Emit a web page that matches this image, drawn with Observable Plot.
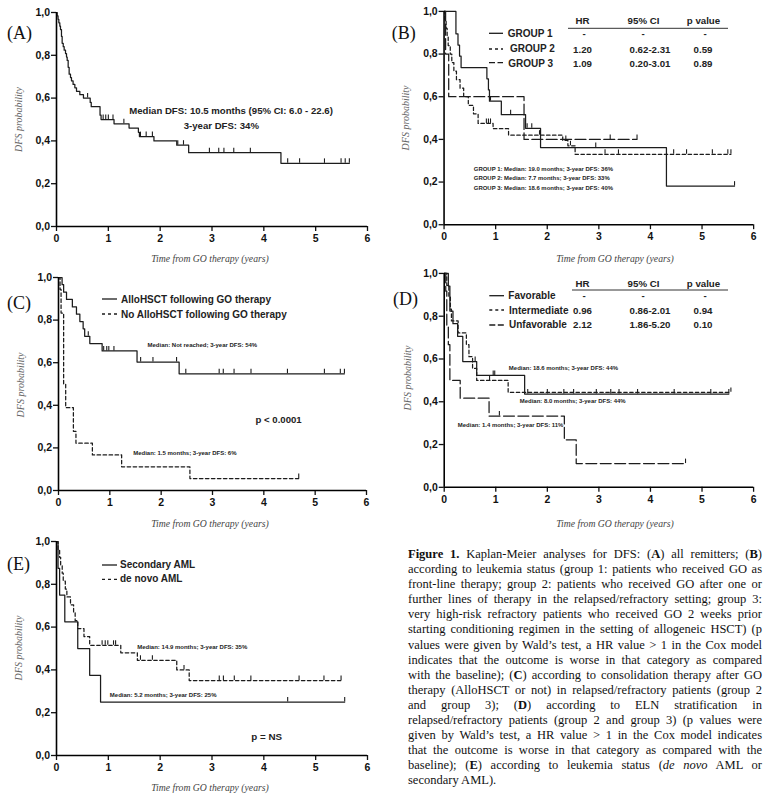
<!DOCTYPE html>
<html><head><meta charset="utf-8">
<script src="https://cdn.jsdelivr.net/npm/d3@7"></script>
<script src="https://cdn.jsdelivr.net/npm/@observablehq/plot@0.6"></script>
<style>
body{margin:0;background:#fff;}
#page{position:relative;width:771px;height:797px;overflow:hidden;background:#fff;}
.panel{position:absolute;}
#overlay{position:absolute;left:0;top:0;}
#caption{position:absolute;left:408px;top:547px;width:354px;font-family:"Liberation Serif","Times New Roman",serif;font-size:12.5px;line-height:15.1px;color:#111;}
#caption div{white-space:nowrap;}
</style></head>
<body><div id="page"><div id="caption"></div></div>
<script>
// ---------- axis ticks ----------
const xTicks = [0,1,2,3,4,5,6];
const yTicks = [0,0.2,0.4,0.6,0.8,1];

// ---------- Panel A: all remitters ----------
const aTimes = [0,0.013,0.03,0.045,0.064,0.077,0.096,0.109,0.13,0.148,0.174,0.193,0.206,0.225,0.244,0.27,0.289,0.32,0.354,0.386,0.45,0.52,0.65,0.67,0.84,0.86,1.11,1.40,1.58,1.60,1.88,2.32,2.55,4.33];
const aSurv  = [1,0.984,0.968,0.952,0.936,0.92,0.888,0.856,0.84,0.824,0.808,0.792,0.776,0.744,0.712,0.696,0.68,0.664,0.648,0.632,0.616,0.60,0.58,0.56,0.52,0.50,0.48,0.46,0.44,0.42,0.40,0.38,0.345,0.295];
const aEnd = 5.65;
const aCensor = [0.6,0.9,0.95,1.0,1.09,1.3,1.62,1.73,1.85,2.34,2.45,2.95,3.13,3.23,3.42,3.74,4.46,4.69,5.17,5.49,5.57,5.65];
const aNotes = ["Median DFS: 10.5 months (95% CI: 6.0 - 22.6)","3-year DFS: 34%"];

// ---------- Panel B: leukemia status groups ----------
const g1Times = [0,0.23,0.27,0.30,0.33,0.83,0.86,0.88,1.11,1.58,1.87,4.31];
const g1Surv  = [1,0.895,0.842,0.79,0.737,0.684,0.632,0.579,0.516,0.452,0.362,0.181];
const g1End = 5.63;
const g1Censor = [0.9,1.29,1.61,1.70,2.94,5.63];
const g2Times = [0,0.02,0.04,0.06,0.08,0.12,0.15,0.19,0.24,0.31,0.38,0.47,0.57,0.66,0.95,1.25,2.30,2.40,2.54];
const g2Surv  = [1,0.96,0.92,0.88,0.84,0.80,0.76,0.72,0.68,0.64,0.60,0.56,0.52,0.475,0.45,0.42,0.395,0.37,0.33];
const g2End = 5.56;
const g2Censor = [0.82,0.86,0.90,1.85,2.36,2.45,3.12,3.38,4.45,4.7,5.2,5.5,5.56];
const g3Times = [0,0.03,0.09,1.55];
const g3Surv  = [1,0.8,0.6,0.4];
const g3End = 3.74;
const g3Censor = [3.22,3.74];
const bLegend = ["GROUP 1","GROUP 2","GROUP 3"];
const bHeader = ["HR","95% CI","p value"];
const bRows = [["-","-","-"],["1.20","0.62-2.31","0.59"],["1.09","0.20-3.01","0.89"]];
const bNotes = ["GROUP 1: Median: 19.0 months; 3-year DFS: 36%","GROUP 2: Median: 7.7 months; 3-year DFS: 33%","GROUP 3: Median: 18.6 months; 3-year DFS: 40%"];

// ---------- Panel C: AlloHSCT ----------
const alloTimes = [0,0.07,0.10,0.156,0.27,0.35,0.416,0.48,0.51,0.61,0.85,1.53,2.35];
const alloSurv  = [1,0.966,0.931,0.897,0.862,0.828,0.793,0.759,0.724,0.69,0.655,0.603,0.548];
const alloEnd = 5.57;
const alloCensor = [0.58,0.88,0.94,0.98,1.08,1.6,1.84,2.30,2.48,3.13,3.21,3.42,3.75,4.46,5.18,5.49,5.57];
const noAlloTimes = [0,0.03,0.05,0.10,0.14,0.29,0.34,0.66,1.23,2.56];
const noAlloSurv  = [1,0.944,0.833,0.5,0.389,0.278,0.222,0.167,0.111,0.056];
const noAlloEnd = 4.68;
const noAlloCensor = [4.68];
const cLegend = ["AlloHSCT following GO therapy","No AlloHSCT following GO therapy"];
const cNotes = ["Median: Not reached; 3-year DFS: 54%","Median: 1.5 months; 3-year DFS: 6%","p < 0.0001"];

// ---------- Panel D: ELN stratification ----------
const favTimes = [0,0.08,0.11,0.17,0.26,0.36,0.63,1.56];
const favSurv  = [1,0.941,0.824,0.765,0.706,0.588,0.523,0.436];
const favEnd = 5.52;
const favCensor = [0.6,0.95,0.98,1.62,2.0,2.32,2.51,2.95,3.23,3.39,3.75,4.46,5.17,5.52];
const intTimes = [0,0.05,0.09,0.12,0.14,0.27,0.43,0.48,0.55,0.63,1.24];
const intSurv  = [1,0.944,0.889,0.833,0.778,0.722,0.667,0.611,0.556,0.50,0.444];
const intEnd = 5.56;
const intCensor = [0.88,5.56];
const unfTimes = [0,0.03,0.05,0.08,0.11,0.31,0.87,2.33,2.56];
const unfSurv  = [1,0.917,0.75,0.667,0.5,0.417,0.333,0.222,0.111];
const unfEnd = 4.68;
const unfCensor = [1.07,4.68];
const dLegend = ["Favorable","Intermediate","Unfavorable"];
const dHeader = ["HR","95% CI","p value"];
const dRows = [["-","-","-"],["0.96","0.86-2.01","0.94"],["2.12","1.86-5.20","0.10"]];
const dNotes = ["Median: 18.6 months; 3-year DFS: 44%","Median: 8.0 months; 3-year DFS: 44%","Median: 1.4 months; 3-year DFS: 11%"];

// ---------- Panel E: de novo vs secondary ----------
const secTimes = [0,0.03,0.06,0.16,0.41,0.64,0.85];
const secSurv  = [1,0.875,0.75,0.625,0.5,0.375,0.25];
const secEnd = 5.56;
const secCensor = [4.46,5.56];
const dnTimes = [0,0.03,0.06,0.08,0.11,0.13,0.17,0.20,0.27,0.33,0.36,0.41,0.53,0.64,1.24,1.56,2.32,2.56];
const dnSurv  = [1,0.963,0.926,0.889,0.852,0.815,0.778,0.741,0.704,0.667,0.63,0.593,0.556,0.515,0.48,0.445,0.40,0.35];
const dnEnd = 5.49;
const dnCensor = [0.88,0.94,0.99,1.10,1.14,1.62,1.85,2.46,3.14,3.22,3.43,3.75,4.68,5.16,5.49];
const eLegend = ["Secondary AML","de novo AML"];
const eNotes = ["Median: 14.9 months; 3-year DFS: 35%","Median: 5.2 months; 3-year DFS: 25%","p = NS"];

const panelLabels = ["(A)","(B)","(C)","(D)","(E)"];
const xTitle = "Time from GO therapy (years)";
const yTitle = "DFS probability";

const captionLines = [
 '<b>Figure 1.</b> Kaplan-Meier analyses for DFS: (<b>A</b>) all remitters; (<b>B</b>)',
 'according to leukemia status (group 1: patients who received GO as',
 'front-line therapy; group 2: patients who received GO after one or',
 'further lines of therapy in the relapsed/refractory setting; group 3:',
 'very high-risk refractory patients who received GO 2 weeks prior',
 'starting conditioning regimen in the setting of allogeneic HSCT) (p',
 'values were given by Wald\u2019s test, a HR value &gt; 1 in the Cox model',
 'indicates that the outcome is worse in that category as compared',
 'with the baseline); (<b>C</b>) according to consolidation therapy after GO',
 'therapy (AlloHSCT or not) in relapsed/refractory patients (group 2',
 'and group 3); (<b>D</b>) according to ELN stratification in',
 'relapsed/refractory patients (group 2 and group 3) (p values were',
 'given by Wald\u2019s test, a HR value &gt; 1 in the Cox model indicates',
 'that the outcome is worse in that category as compared with the',
 'baseline); (<b>E</b>) according to leukemia status (<i>de novo</i> AML or',
 'secondary AML).'
];

// ---------- helpers ----------
const SHORT = "3.5,2.5", LONG = "11,3.5";
function kmPoints(c){
  const pts = c.times.map((t,i)=>({t, s:c.surv[i]}));
  pts.push({t:c.end, s:c.surv[c.surv.length-1]});
  return pts;
}
function stepAt(c,t){ let v=c.surv[0]; c.times.forEach((x,i)=>{ if(x<=t) v=c.surv[i]; }); return v; }
function censorPoints(c){ return c.censor.map(t=>({t, s:stepAt(c,t)})); }

const page = document.getElementById("page");

function makePanel(p){
  const [L,R,T,B] = p.frame;
  const ml=56, mr=18, mt=12, mb=34;
  const W=R-L+ml+mr, H=B-T+mt+mb;
  const tick = 4.5/(B-T);
  const marks = [
    Plot.axisX({ticks:xTicks, tickSize:5, tickPadding:3, tickFormat:d=>String(d), label:null, strokeWidth:1.3}),
    Plot.axisY({ticks:yTicks, tickSize:5, tickPadding:1.5, tickFormat:d=>d.toFixed(1).replace(".",","), label:null, strokeWidth:1.3})
  ];
  p.curves.forEach(c=>{
    marks.push(Plot.line(kmPoints(c), {x:"t", y:"s", curve:"step-after", stroke:"#1c1c1c", strokeWidth:1.25, strokeDasharray:c.dash}));
    marks.push(Plot.ruleX(censorPoints(c), {x:"t", y1:"s", y2:d=>d.s+tick, stroke:"#1c1c1c", strokeWidth:1.1}));
  });
  marks.push(Plot.ruleY([0],{stroke:"#000", strokeWidth:1.6}), Plot.ruleX([0],{stroke:"#000", strokeWidth:1.6}));
  p.texts.forEach(tx=>marks.push(Plot.text([tx], {x:"t", y:"s", text:"label", textAnchor:tx.anchor||"start", fontSize:tx.size, fontWeight:"bold", fill:"#222"})));
  const svg = Plot.plot({width:W, height:H, marginLeft:ml, marginRight:mr, marginTop:mt, marginBottom:mb,
    x:{domain:[0,6]}, y:{domain:[0,1]},
    style:{fontFamily:"'Liberation Sans', Arial, sans-serif", fontSize:"10.5px", fontWeight:"bold", color:"#111", background:"transparent", overflow:"visible"},
    marks});
  const div=document.createElement("div"); div.className="panel";
  div.style.left=(L-ml)+"px"; div.style.top=(T-mt)+"px";
  div.appendChild(svg); page.appendChild(div);
}

const panels = [
  {frame:[56,367,12,226], curves:[{times:aTimes,surv:aSurv,end:aEnd,censor:aCensor}],
   texts:[{t:3.367,s:0.540,label:aNotes[0],size:9.6,anchor:"middle"},{t:3.18,s:0.470,label:aNotes[1],size:9.6,anchor:"middle"}]},
  {frame:[444,756,11,226], curves:[
     {times:g1Times,surv:g1Surv,end:g1End,censor:g1Censor},
     {times:g2Times,surv:g2Surv,end:g2End,censor:g2Censor,dash:SHORT},
     {times:g3Times,surv:g3Surv,end:g3End,censor:g3Censor,dash:LONG}],
   texts:[{t:0.577,s:0.263,label:bNotes[0],size:6},{t:0.577,s:0.217,label:bNotes[1],size:6},{t:0.577,s:0.172,label:bNotes[2],size:6}]},
  {frame:[58,366,277,490], curves:[
     {times:alloTimes,surv:alloSurv,end:alloEnd,censor:alloCensor},
     {times:noAlloTimes,surv:noAlloSurv,end:noAlloEnd,censor:noAlloCensor,dash:SHORT}],
   texts:[{t:1.734,s:0.681,label:cNotes[0],size:6},{t:1.455,s:0.177,label:cNotes[1],size:6},{t:3.838,s:0.333,label:cNotes[2],size:9.6}]},
  {frame:[444,755,273,488], curves:[
     {times:favTimes,surv:favSurv,end:favEnd,censor:favCensor},
     {times:intTimes,surv:intSurv,end:intEnd,censor:intCensor,dash:SHORT},
     {times:unfTimes,surv:unfSurv,end:unfEnd,censor:unfCensor,dash:LONG}],
   texts:[{t:1.254,s:0.557,label:dNotes[0],size:6},{t:1.466,s:0.401,label:dNotes[1],size:6},{t:0.264,s:0.290,label:dNotes[2],size:6}]},
  {frame:[56,367,541,755], curves:[
     {times:secTimes,surv:secSurv,end:secEnd,censor:secCensor},
     {times:dnTimes,surv:dnSurv,end:dnEnd,censor:dnCensor,dash:SHORT}],
   texts:[{t:1.557,s:0.508,label:eNotes[0],size:6},{t:1.029,s:0.283,label:eNotes[1],size:6},{t:3.757,s:0.085,label:eNotes[2],size:9.8}]}
];
panels.forEach(makePanel);

// ---------- overlay: labels, titles, legends, tables ----------
const ov = d3.select("#page").append("svg").attr("id","overlay").attr("width",771).attr("height",797);
const SANS="'Liberation Sans', Arial, sans-serif", SERIF="'Liberation Serif','Times New Roman',serif";
function txt(x,y,s,o={}){
  const t=ov.append("text").attr("x",x).attr("y",y).text(s)
    .attr("font-family",o.family||SANS).attr("font-size",o.size||10)
    .attr("font-weight",o.weight||"bold").attr("font-style",o.style||"normal")
    .attr("fill",o.fill||"#222").attr("text-anchor",o.anchor||"start");
  if(o.rotate) t.attr("transform",`rotate(-90 ${x} ${y})`);
  return t;
}
function swatch(x1,x2,y,dash){
  ov.append("line").attr("x1",x1).attr("x2",x2).attr("y1",y).attr("y2",y)
    .attr("stroke","#1c1c1c").attr("stroke-width",1.3).attr("stroke-dasharray",dash||null);
}
// panel letters
[[7,38.5],[391.7,38.5],[7,309],[393,305],[7,570]].forEach(([x,y],i)=>txt(x,y,panelLabels[i],{family:SERIF,size:18,weight:"normal",fill:"#111"}));
// axis titles
[[210,262],[615,262],[210,527],[615,527],[210,791]].forEach(([x,y])=>txt(x,y,xTitle,{family:SERIF,size:9.7,weight:"normal",style:"italic",fill:"#444",anchor:"middle"}));
[[22,119.5],[408.5,118],[24,385],[410.5,378],[21.5,648]].forEach(([x,y])=>txt(x,y,yTitle,{family:SERIF,size:10,weight:"normal",style:"italic",fill:"#666",anchor:"middle",rotate:true}));

// legend B
const bDash=[null,"3,3","6,2.5"];
[33.3,49,62.7].forEach((y,i)=>swatch(489,503,y,bDash[i]));
[[507.7,37.3],[510,52.3],[508.3,66.7]].forEach(([x,y],i)=>txt(x,y,bLegend[i],{size:10}));
// table
function table(header, rows, hy, rowY, lineY, lx1, lx2){
  const hx=[582.5,643.5,703.5];
  header.forEach((h,i)=>txt(hx[i],hy,h,{size:9.7,anchor:"middle"}));
  ov.append("line").attr("x1",lx1).attr("x2",lx2).attr("y1",lineY).attr("y2",lineY).attr("stroke","#333").attr("stroke-width",1);
  rows.forEach((r,j)=>{
    const xs = j===0 ? [584,643,705] : [582.5,650,703];
    r.forEach((v,i)=>txt(xs[i],rowY[j],v,{size:9.7,anchor:"middle"}));
  });
}
table(bHeader,bRows,24.3,[36.5,52.7,66.7],28.3,568,728);
// legend D
const dDash=[null,"3,3","6,2.5"];
[295.7,310,325].forEach((y,i)=>swatch(489.3,504,y,dDash[i]));
[[508.3,299],[509,314],[509,328.3]].forEach(([x,y],i)=>txt(x,y,dLegend[i],{size:10}));
table(dHeader,dRows,286.7,[298.7,314,328.3],290,572,728);
// legend C
swatch(102,117,299,null); swatch(102,117,314,"3,3");
txt(121,302.7,cLegend[0],{size:10}); txt(121,317.9,cLegend[1],{size:10});
// legend E
swatch(102,117,565,null); swatch(102,117,579.3,"3,3");
txt(120,568.2,eLegend[0],{size:10}); txt(120,582.2,eLegend[1],{size:10});

// ---------- caption (manually justified lines) ----------
const cap=document.getElementById("caption");
const capW = 354;
captionLines.forEach((html,i)=>{
  const d=document.createElement("div");
  const sp=document.createElement("span"); sp.innerHTML=html; d.appendChild(sp); cap.appendChild(d);
  if(i<captionLines.length-1){
    const w=sp.getBoundingClientRect().width;
    const spaces=(sp.textContent.match(/ /g)||[]).length;
    if(spaces>0) sp.style.wordSpacing=((capW-w)/spaces)+"px";
  }
});
</script>
</body></html>
